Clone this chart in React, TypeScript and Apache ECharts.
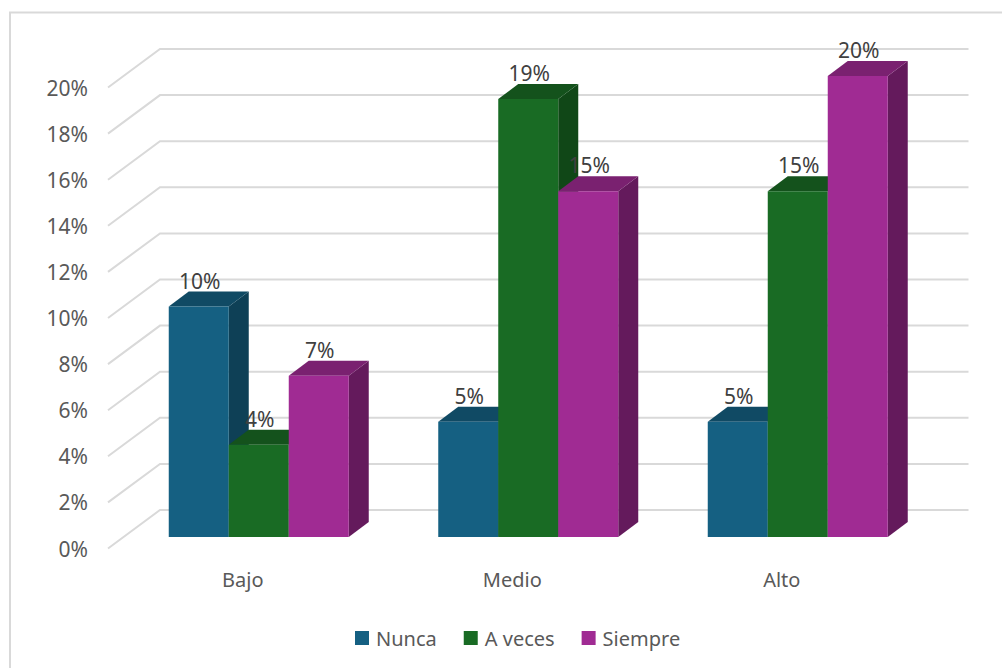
import React, { useEffect, useRef } from "react";
import * as echarts from "echarts";

const categories = ["Bajo", "Medio", "Alto"];
const nunca = [10, 5, 5];
const aVeces = [4, 19, 15];
const siempre = [7, 15, 20];
const gridTicks = [0, 2, 4, 6, 8, 10, 12, 14, 16, 18, 20];

const FONT = "Noto Sans";
const TEXT = "#595959";
const LABEL = "#404040";
const GRID = "#D9D9D9";

// Pseudo-3D projection, in pixels
const WALL_DX = 52;
const WALL_DY = -38.5;
const BAR_PLANE_DX = 16;
const BAR_PLANE_DY = -11.5;
const BAR_W = 60;
const DEPTH_DX = 20;
const DEPTH_DY = -15;

const palettes = [
  { front: "#156082", side: "#0E4056", top: "#104A64" },
  { front: "#196B24", side: "#104717", top: "#14521C" },
  { front: "#A02B93", side: "#641A5C", top: "#7A2170" },
];

function barSeries(name: string, values: number[], index: number) {
  const p = palettes[index];
  return {
    name,
    type: "custom",
    coordinateSystem: "cartesian2d",
    itemStyle: { color: p.front },
    encode: { x: 0, y: 1 },
    data: values.map((v, i) => [i, v]),
    renderItem: (_params: any, api: any) => {
      const top = api.coord([api.value(0), api.value(1)]);
      const base = api.coord([api.value(0), 0]);
      const x0 = top[0] + BAR_PLANE_DX + (index - 1.5) * BAR_W;
      const x1 = x0 + BAR_W;
      const y0 = top[1] + BAR_PLANE_DY;
      const y1 = base[1] + BAR_PLANE_DY;
      return {
        type: "group",
        children: [
          {
            type: "polygon",
            z2: 10 + index,
            shape: { points: [[x1, y0], [x1 + DEPTH_DX, y0 + DEPTH_DY], [x1 + DEPTH_DX, y1 + DEPTH_DY], [x1, y1]] },
            style: { fill: p.side },
          },
          {
            type: "polygon",
            z2: 10 + index,
            shape: { points: [[x0, y0], [x0 + DEPTH_DX, y0 + DEPTH_DY], [x1 + DEPTH_DX, y0 + DEPTH_DY], [x1, y0]] },
            style: { fill: p.top },
          },
          {
            type: "rect",
            z2: 10 + index,
            shape: { x: x0, y: y0, width: BAR_W, height: y1 - y0 },
            style: { fill: p.front },
          },
          {
            type: "text",
            z2: 100,
            style: {
              text: api.value(1) + "%",
              x: (x0 + x1) / 2 + 1,
              y: y0 - 26,
              align: "center",
              verticalAlign: "middle",
              fill: LABEL,
              font: `21px "${FONT}"`,
            },
          },
        ],
      };
    },
  };
}

export default function App() {
  const ref = useRef<HTMLDivElement>(null);
  useEffect(() => {
    document.body.style.margin = "0";
    const chart = echarts.init(ref.current!, undefined, { renderer: "svg" });
    chart.setOption({
      animation: false,
      backgroundColor: "#FFFFFF",
      graphic: [
        {
          type: "polyline",
          shape: { points: [[10, 668], [10, 12.5], [1002, 12.5]] },
          style: { fill: "none", stroke: GRID, lineWidth: 2 },
        },
      ],
      grid: { left: 108, top: 87.5, width: 808.5, height: 461 },
      legend: {
        data: ["Nunca", "A veces", "Siempre"],
        left: 350,
        top: 623,
        icon: "rect",
        itemWidth: 14,
        itemHeight: 14,
        itemGap: 27,
        textStyle: { color: TEXT, fontFamily: FONT, fontSize: 20, padding: [0, 0, 0, 2] },
      },
      xAxis: {
        type: "category",
        data: categories,
        axisLine: { show: false },
        axisTick: { show: false },
        splitLine: { show: false },
        axisLabel: { color: TEXT, fontFamily: FONT, fontSize: 20, margin: 21 },
      },
      yAxis: {
        type: "value",
        min: 0,
        max: 20,
        interval: 2,
        axisLine: { show: false },
        axisTick: { show: false },
        splitLine: { show: false },
        axisLabel: { color: TEXT, fontFamily: FONT, fontSize: 21, margin: 20, formatter: "{value}%" },
      },
      series: [
        {
          name: "walls",
          type: "custom",
          coordinateSystem: "cartesian2d",
          silent: true,
          encode: { y: 0 },
          data: gridTicks.map((t) => [t]),
          renderItem: (params: any, api: any) => {
            const sys = params.coordSys;
            const y = api.coord([0, api.value(0)])[1];
            const style = { stroke: GRID, lineWidth: 2, fill: "none" };
            return {
              type: "polyline",
              z2: 1,
              shape: {
                points: [
                  [sys.x, y],
                  [sys.x + WALL_DX, y + WALL_DY],
                  [sys.x + sys.width + WALL_DX, y + WALL_DY],
                ],
              },
              style,
            };
          },
        },
        barSeries("Nunca", nunca, 0),
        barSeries("A veces", aVeces, 1),
        barSeries("Siempre", siempre, 2),
      ],
    });
    return () => chart.dispose();
  }, []);
  return <div ref={ref} style={{ width: 1002, height: 668 }} />;
}
